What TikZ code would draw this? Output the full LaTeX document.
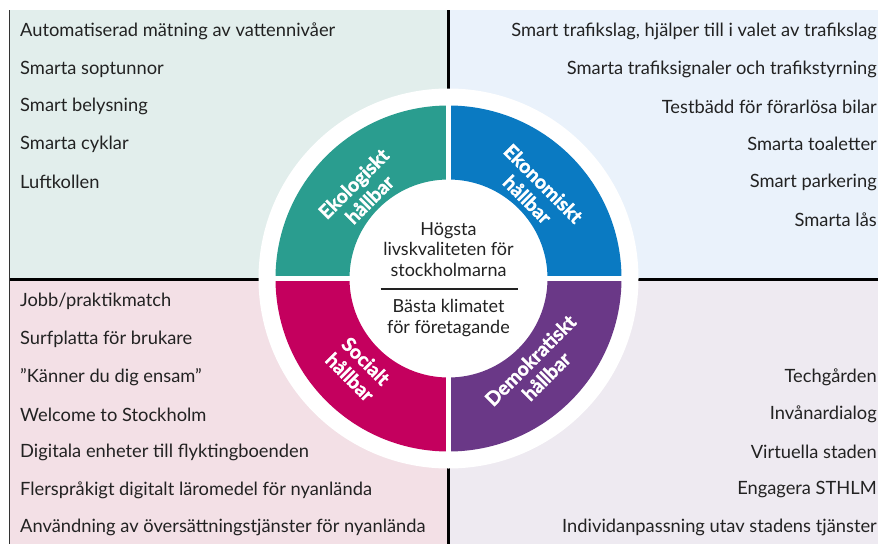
\documentclass[tikz,border=0pt]{standalone}
\usepackage{fontspec}
\setmainfont{Lato}
\newfontfamily\segfont[BoldFeatures={FakeBold=1.6}]{Lato}
\definecolor{bgTL}{HTML}{E2EEEC}
\definecolor{bgTR}{HTML}{EAF2FB}
\definecolor{bgBL}{HTML}{F3E0E6}
\definecolor{bgBR}{HTML}{EEEAF1}
\definecolor{ekoC}{HTML}{2A9D8F}
\definecolor{ekonC}{HTML}{0A7AC2}
\definecolor{socC}{HTML}{C4005E}
\definecolor{demC}{HTML}{6A3887}
\definecolor{txt}{HTML}{222222}
\begin{document}
\begin{tikzpicture}[x=1pt,y=-1pt,
  item/.style={font=\fontsize{18.3}{22}\selectfont, text=txt, inner sep=0pt},
  itemL/.style={item, anchor=west},
  itemR/.style={item, anchor=east},
  ctext/.style={font=\fontsize{18}{20.5}\selectfont, text=txt, align=center, inner sep=0pt},
  seglabel/.style={font=\segfont\bfseries\fontsize{19.5}{22.5}\selectfont, text=white, align=center, inner sep=0pt},
  divider/.style={line width=3pt, black}]
\useasboundingbox (0,0) rectangle (879,544);
\fill[white] (0,0) rectangle (879,544);
% quadrant backgrounds
\fill[bgTL] (10,10) rectangle (448.5,278.5);
\fill[bgTR] (448.5,10) rectangle (878,278.5);
\fill[bgBL] (10,278.5) rectangle (448.5,544);
\fill[bgBR] (448.5,278.5) rectangle (878,544);
\draw[line width=1pt, black!80] (9.5,10) -- (9.5,544);
\draw[divider] (10,279) -- (878,279);
\draw[divider] (448.5,10) -- (448.5,544);
% wheel
\begin{scope}[shift={(448.5,278.5)}, y=1pt]
  \fill[white] (0,0) circle[radius=190];
  \fill[ekoC] (90:99) -- (90:173) arc[start angle=90,end angle=180,radius=173] -- (180:99) arc[start angle=180,end angle=90,radius=99] -- cycle;
  \fill[ekonC] (0:99) -- (0:173) arc[start angle=0,end angle=90,radius=173] -- (90:99) arc[start angle=90,end angle=0,radius=99] -- cycle;
  \fill[socC] (180:99) -- (180:173) arc[start angle=180,end angle=270,radius=173] -- (270:99) arc[start angle=270,end angle=180,radius=99] -- cycle;
  \fill[demC] (270:99) -- (270:173) arc[start angle=270,end angle=360,radius=173] -- (360:99) arc[start angle=360,end angle=270,radius=99] -- cycle;
  \draw[white, line width=4.5pt] (-176,0) -- (176,0);
  \draw[white, line width=4.5pt] (0,-176) -- (0,176);
  \node[seglabel, rotate=45] (eko) at (135:123) {Ekologiskt\\hållbar};
  \node[seglabel, rotate=-45] (ekon) at (45:123) {Ekonomiskt\\hållbar};
  \node[seglabel, rotate=-45] (soc) at (225:128) {Socialt\\hållbar};
  \node[seglabel, rotate=45] (dem) at (315:127) {Demokratiskt\\hållbar};
  \node[ctext] (top) at (0,29) {Högsta\\livskvaliteten för\\stockholmarna};
  \node[ctext] (bot) at (0,-39.5) {Bästa klimatet\\för företagande};
  \coordinate (dl) at (-68,-10.5);
  \coordinate (dr) at (69.5,-10.5);
  \draw[line width=1.5pt, txt] (dl) -- (dr);
\end{scope}
% top-left items
\node[itemL] (tl1) at (20,31) {Automatiserad mätning av vattennivåer};
\node[itemL] (tl2) at (20,69) {Smarta soptunnor};
\node[itemL] (tl3) at (20,106.5) {Smart belysning};
\node[itemL] (tl4) at (20,144) {Smarta cyklar};
\node[itemL] (tl5) at (20,182) {Luftkollen};
% top-right items
\node[itemR] (tr1) at (877,31) {Smart trafikslag, hjälper till i valet av trafikslag};
\node[itemR] (tr2) at (877,69) {Smarta trafiksignaler och trafikstyrning};
\node[itemR] (tr3) at (877,106.5) {Testbädd för förarlösa bilar};
\node[itemR] (tr4) at (877,144) {Smarta toaletter};
\node[itemR] (tr5) at (877,182) {Smart parkering};
\node[itemR] (tr6) at (877,219.5) {Smarta lås};
% bottom-left items
\node[itemL] (bl1) at (20,301) {Jobb/praktikmatch};
\node[itemL] (bl2) at (20,339) {Surfplatta för brukare};
\node[itemL] (bl3) at (20,377) {”Känner du dig ensam”};
\node[itemL] (bl4) at (20,414.5) {Welcome to Stockholm};
\node[itemL] (bl5) at (20,452) {Digitala enheter till flyktingboenden};
\node[itemL] (bl6) at (20,490) {Flerspråkigt digitalt läromedel för nyanlända};
\node[itemL] (bl7) at (20,527.5) {Användning av översättningstjänster för nyanlända};
% bottom-right items
\node[itemR] (br1) at (877,377) {Techgården};
\node[itemR] (br2) at (877,414.5) {Invånardialog};
\node[itemR] (br3) at (877,452) {Virtuella staden};
\node[itemR] (br4) at (877,490) {Engagera STHLM};
\node[itemR] (br5) at (877,527.5) {Individanpassning utav stadens tjänster};
\end{tikzpicture}
\end{document}
